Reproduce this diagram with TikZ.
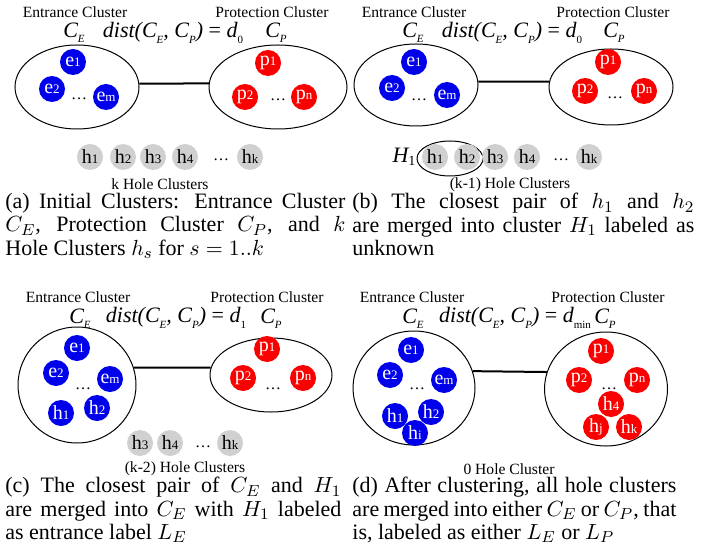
\documentclass[tikz,border=0pt]{standalone}
\usepackage{fontspec}
\setmainfont{Liberation Serif}
\usetikzlibrary{shapes.geometric, positioning}
\definecolor{cEnt}{RGB}{0,0,235}
\definecolor{cProt}{RGB}{250,0,0}
\definecolor{cHole}{RGB}{208,208,208}
\hyphenpenalty=10000
\newcommand{\ptname}[2]{#1{\fontsize{6.5}{6.5}\selectfont #2}}
\newcommand{\lowsub}[1]{\raisebox{-0.55ex}{\fontsize{5.5}{5.5}\selectfont #1}}
\tikzset{
  basedot/.style={circle, inner sep=0pt, minimum size=13pt,
                  font=\fontsize{10}{10}\selectfont},
  entnode/.style={basedot, fill=cEnt, text=white},
  protnode/.style={basedot, fill=cProt, text=white},
  holenode/.style={basedot, fill=cHole, text=black},
  clusterbox/.style={ellipse, draw=black, line width=0.5pt, inner sep=0pt},
  titletext/.style={font=\fontsize{7.8}{8}\selectfont, inner sep=0pt},
  mathtext/.style={font=\fontsize{11}{11}\selectfont\itshape, inner sep=0pt},
  dotstext/.style={font=\fontsize{8}{8}\selectfont, inner sep=0pt, anchor=base},
  linkline/.style={line width=1pt},
  captext/.style={font=\fontsize{11}{11.6}\selectfont,
                  align=justify, inner sep=0pt, anchor=north west}
}

\begin{document}
\begin{tikzpicture}[x=0.5pt, y=-0.5pt]
  \useasboundingbox (0,0) rectangle (704,550);

  % (a) initial clusters
  \node[titletext] (entA) at (75,12) {Entrance Cluster};
  \node[titletext] (protA) at (272,12) {Protection Cluster};
  \node[mathtext] (ceLabA) at (74,32.5) {C\lowsub{E}};
  \node[mathtext] (cpLabA) at (276,32.5) {C\lowsub{P}};
  \node[mathtext] (distA) at (173,33)
      {dist(C\lowsub{E}, C\lowsub{P}) {\upshape =} d\lowsub{\upshape 0}};
  \node[clusterbox, minimum width=62pt, minimum height=42pt] (ceA) at (77,87) {};
  \node[clusterbox, minimum width=69pt, minimum height=42pt] (cpA) at (278,87) {};
  \draw[linkline] (ceA.3) -- (cpA.177);
  \node[entnode] (e1A) at (73,62) {\ptname{e}{1}};
  \node[entnode] (e2A) at (52,89) {\ptname{e}{2}};
  \node[entnode] (emA) at (106,97) {\ptname{e}{m}};
  \node[dotstext] (edotsA) at (79,100) {\dots};
  \node[protnode] (p1A) at (268,63) {\ptname{p}{1}};
  \node[protnode] (p2A) at (245,97) {\ptname{p}{2}};
  \node[protnode] (pnA) at (304,97) {\ptname{p}{n}};
  \node[dotstext] (pdotsA) at (278,101) {\dots};
  \foreach \nm/\x in {1/90, 2/123, 3/153, 4/185}
    \node[holenode] (hA\nm) at (\x,157) {\ptname{h}{\nm}};
  \node[dotstext] (hdotsA) at (221,161) {\dots};
  \node[holenode] (hkA) at (250,157) {\ptname{h}{k}};
  \node[titletext] (holesA) at (160,184.5) {k Hole Clusters};
  \node[captext, text width=170pt] (capA) at (5,193)
      {(a) Initial Clusters: Entrance Cluster\linebreak $C_E$, Protection Cluster $C_P$,
       and $k$\linebreak Hole Clusters $h_s$ for $s=1..k$};

  % (b) h1 and h2 merged
  \node[titletext] (entB) at (414,12) {Entrance Cluster};
  \node[titletext] (protB) at (613,12) {Protection Cluster};
  \node[mathtext] (ceLabB) at (413,32.5) {C\lowsub{E}};
  \node[mathtext] (cpLabB) at (614,32.5) {C\lowsub{P}};
  \node[mathtext] (distB) at (512,33)
      {dist(C\lowsub{E}, C\lowsub{P}) {\upshape =} d\lowsub{\upshape 0}};
  \node[clusterbox, minimum width=62pt, minimum height=41pt] (ceB) at (416,85) {};
  \node[clusterbox, minimum width=62pt, minimum height=38pt] (cpB) at (611,87) {};
  \draw[linkline] (ceB.3) -- (cpB.175);
  \node[entnode] (e1B) at (414,62) {\ptname{e}{1}};
  \node[entnode] (e2B) at (392,88) {\ptname{e}{2}};
  \node[entnode] (emB) at (447,95) {\ptname{e}{m}};
  \node[dotstext] (edotsB) at (419,101) {\dots};
  \node[protnode] (p1B) at (608,62) {\ptname{p}{1}};
  \node[protnode] (p2B) at (585,91) {\ptname{p}{2}};
  \node[protnode] (pnB) at (644,91) {\ptname{p}{n}};
  \node[dotstext] (pdotsB) at (615,99) {\dots};
  \node[clusterbox, minimum width=33pt, minimum height=17.5pt] (H1B) at (450,158.5) {};
  \node[mathtext] (H1labB) at (404,157)
      {H{\upshape\fontsize{7}{7}\selectfont\raisebox{-0.4ex}{1}}};
  \foreach \nm/\x in {1/435, 2/467, 3/495, 4/527}
    \node[holenode] (hB\nm) at (\x,157) {\ptname{h}{\nm}};
  \node[dotstext] (hdotsB) at (561,161) {\dots};
  \node[holenode] (hkB) at (589,157) {\ptname{h}{k}};
  \node[titletext] (holesB) at (510,185) {(k-1) Hole Clusters};
  \node[captext, text width=171pt] (capB) at (352,193)
      {(b) The closest pair of $h_1$ and $h_2$\linebreak are merged into cluster $H_1$
       labeled as\linebreak unknown};

  % (c) H1 merged into C_E
  \node[titletext] (entC) at (78,297) {Entrance Cluster};
  \node[titletext] (protC) at (267,297) {Protection Cluster};
  \node[mathtext] (ceLabC) at (80,318.5) {C\lowsub{E}};
  \node[mathtext] (cpLabC) at (271,318.5) {C\lowsub{P}};
  \node[mathtext] (distC) at (176,318)
      {dist(C\lowsub{E}, C\lowsub{P}) {\upshape =} d\lowsub{\upshape 1}};
  \node[clusterbox, minimum width=59pt, minimum height=58pt] (ceC) at (77,385) {};
  \node[clusterbox, minimum width=61pt, minimum height=37pt] (cpC) at (271,375) {};
  \draw[linkline] (ceC.17) -- (cpC.173);
  \node[entnode] (e1C) at (77,348) {\ptname{e}{1}};
  \node[entnode] (e2C) at (56,373) {\ptname{e}{2}};
  \node[entnode] (emC) at (110,379) {\ptname{e}{m}};
  \node[dotstext] (edotsC) at (83,389) {\dots};
  \node[entnode] (h1C) at (61,413) {\ptname{h}{1}};
  \node[entnode] (h2C) at (97,408) {\ptname{h}{2}};
  \node[protnode] (p1C) at (267,349) {\ptname{p}{1}};
  \node[protnode] (p2C) at (243,378) {\ptname{p}{2}};
  \node[protnode] (pnC) at (303,378) {\ptname{p}{n}};
  \node[dotstext] (pdotsC) at (273,389) {\dots};
  \foreach \nm/\x in {3/140, 4/170}
    \node[holenode] (hC\nm) at (\x,443) {\ptname{h}{\nm}};
  \node[dotstext] (hdotsC) at (203,447) {\dots};
  \node[holenode] (hkC) at (230,443) {\ptname{h}{k}};
  \node[titletext] (holesC) at (185,468.5) {(k-2) Hole Clusters};
  \node[captext, text width=168pt] (capC) at (5,477)
      {(c) The closest pair of $C_E$ and $H_1$\linebreak are merged into $C_E$ with $H_1$
       labeled\linebreak as entrance label $L_E$};

  % (d) after clustering
  \node[titletext] (entD) at (412,297) {Entrance Cluster};
  \node[titletext] (protD) at (608,297) {Protection Cluster};
  \node[mathtext] (ceLabD) at (413,318.5) {C\lowsub{E}};
  \node[mathtext] (cpLabD) at (605,318.5) {C\lowsub{P}};
  \node[mathtext] (distD) at (515,318)
      {dist(C\lowsub{E}, C\lowsub{P}) {\upshape =} d\lowsub{\upshape min}};
  \node[clusterbox, minimum width=61pt, minimum height=57pt] (ceD) at (414,388) {};
  \node[clusterbox, minimum width=61.5pt, minimum height=57pt] (cpD) at (606,389) {};
  \draw[linkline] (ceD.16) -- (cpD.164);
  \node[entnode] (e1D) at (411,350) {\ptname{e}{1}};
  \node[entnode] (e2D) at (390,375) {\ptname{e}{2}};
  \node[entnode] (emD) at (444,380) {\ptname{e}{m}};
  \node[dotstext] (edotsD) at (417,389) {\dots};
  \node[entnode] (h1D) at (395,416) {\ptname{h}{1}};
  \node[entnode] (h2D) at (431,412) {\ptname{h}{2}};
  \node[entnode] (hiD) at (415,433) {\ptname{h}{i}};
  \node[protnode] (p1D) at (601,351) {\ptname{p}{1}};
  \node[protnode] (p2D) at (579,380) {\ptname{p}{2}};
  \node[protnode] (pnD) at (637,380) {\ptname{p}{n}};
  \node[dotstext] (pdotsD) at (609,389) {\dots};
  \node[protnode] (h4D) at (611,404) {\ptname{h}{4}};
  \node[protnode] (hjD) at (596,427) {\ptname{h}{j}};
  \node[protnode] (hkD) at (629,427) {\ptname{h}{k}};
  \node[titletext] (holesD) at (509,469) {0 Hole Cluster};
  \node[captext, text width=162pt] (capD) at (352,477)
      {(d) After clustering, all hole clusters\linebreak are merged into either $C_E$
       or $C_P$, that\linebreak is, labeled as either $L_E$ or $L_P$};
\end{tikzpicture}
\end{document}
